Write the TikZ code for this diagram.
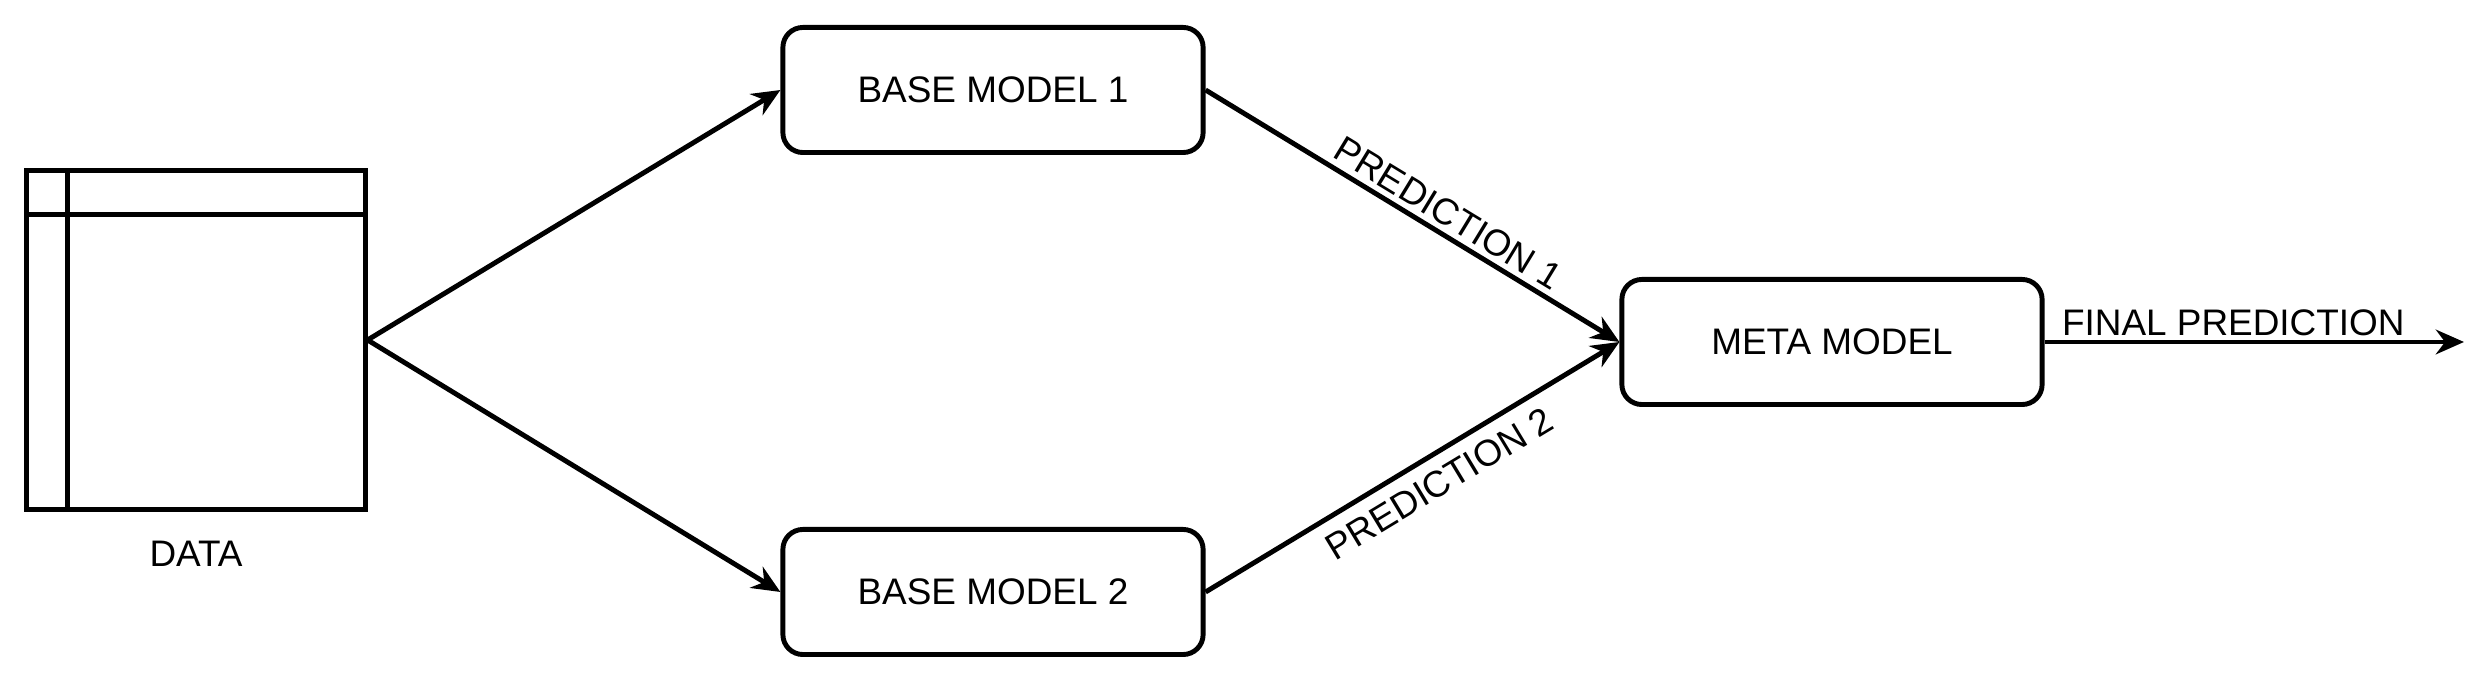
\documentclass[tikz,border=0pt]{standalone}
\usepackage{fontspec}
\setmainfont{Liberation Sans}
\usetikzlibrary{arrows.meta}
\begin{document}
\begin{tikzpicture}[x=0.01cm,y=-0.01cm,
  every node/.style={font=\fontsize{10.5pt}{12pt}\selectfont},
  model/.style={draw,line width=1.4pt,rounded corners=0.2cm,minimum width=4.2cm,minimum height=1.25cm,inner sep=0pt},
  conn/.style={line width=1.4pt,-{Stealth[length=8pt,width=7pt]}},
  lab/.style={sloped,inner sep=1.5pt}]
\useasboundingbox (0,0) rectangle (2478,680);
\node[draw,line width=1.4pt,minimum width=3.38cm,minimum height=3.38cm,inner sep=0pt] (data) at (196,340) {};
\draw[line width=1.4pt] ([xshift=0.43cm]data.north west) -- ([xshift=0.43cm]data.south west);
\draw[line width=1.4pt] ([yshift=-0.46cm]data.north west) -- ([yshift=-0.46cm]data.north east);
\node (datalab) at (196,554) {DATA};
\node[model] (bm1) at (993,90) {BASE MODEL 1};
\node[model] (bm2) at (993,592) {BASE MODEL 2};
\node[model] (meta) at (1832,342) {META MODEL};
\coordinate (out) at (2464,342);
\draw[conn] (data.east) -- (bm1.west);
\draw[conn] (data.east) -- (bm2.west);
\draw[conn] (bm1.east) -- node[lab,above,pos=0.56] {PREDICTION 1} (meta.west);
\draw[conn] (bm2.east) -- node[lab,below,pos=0.53,yshift=-2pt] {PREDICTION 2} (meta.west);
\draw[conn] (meta.east) -- node[above,pos=0.45,inner sep=1pt] {FINAL PREDICTION} (out);
\end{tikzpicture}
\end{document}
